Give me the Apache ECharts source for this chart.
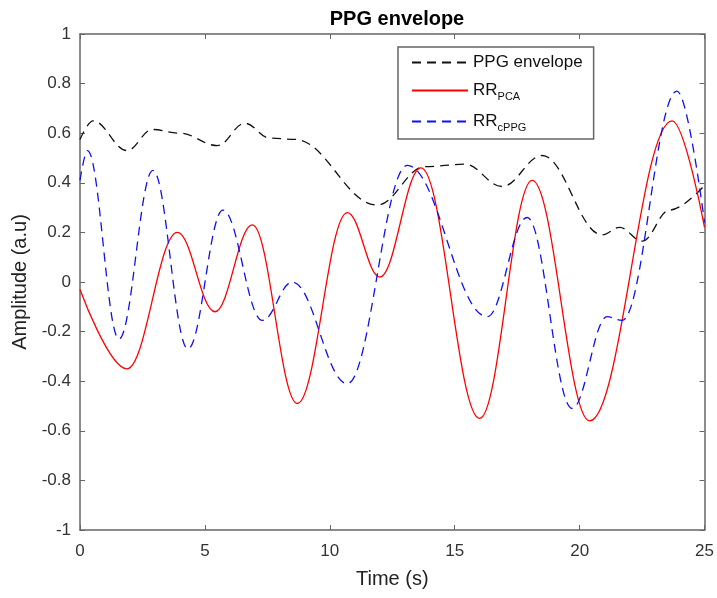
<!DOCTYPE html>
<html>
<head>
<meta charset="utf-8">
<script src="https://cdn.jsdelivr.net/npm/echarts@6/dist/echarts.min.js"></script>
<style>
  html, body { margin: 0; padding: 0; background: #fff; }
  #chart { width: 717px; height: 598px; }
</style>
</head>
<body>
<div id="chart"></div>
<script>
// turning points, [time (s), amplitude]
const ppgEnvelope = [
    [0, 0.575], [0.52, 0.65], [1.88, 0.53], [2.9, 0.615], [4.0, 0.60], [5.5, 0.55],
    [6.6, 0.64], [7.6, 0.58], [8.6, 0.575], [11.9, 0.31], [13.8, 0.465], [15.4, 0.475],
    [16.9, 0.385], [18.5, 0.51], [20.9, 0.19], [21.6, 0.22], [22.5, 0.165], [23.6, 0.29],
    [25, 0.39]
];
const rrPCA = [
    [0, -0.03], [1.88, -0.35], [3.9, 0.20], [5.4, -0.12], [6.9, 0.23], [8.7, -0.49],
    [10.7, 0.28], [12.0, 0.02], [13.65, 0.46], [16.0, -0.55], [18.1, 0.41], [20.4, -0.56],
    [23.7, 0.65], [25, 0.22]
];
const rrCPPG = [
    [0, 0.41], [0.3, 0.53], [1.56, -0.23], [2.92, 0.45], [4.32, -0.27], [5.72, 0.29],
    [7.3, -0.155], [8.5, 0.0], [10.7, -0.41], [13.1, 0.47], [16.3, -0.14], [17.9, 0.26],
    [19.7, -0.51], [21.1, -0.14], [21.7, -0.155], [23.9, 0.77], [25, 0.24]
];
const seriesNames = ['PPG envelope', 'RR_PCA', 'RR_cPPG'];

const axisColor = '#666';
const font = 'Liberation Sans, Arial, sans-serif';

const chart = echarts.init(document.getElementById('chart'));

function legendText(name) {
    if (name === 'RR_PCA') return '{m|RR}{s|PCA}';
    if (name === 'RR_cPPG') return '{m|RR}{s|cPPG}';
    return '{m|' + name + '}';
}

function lineSeries(name, data, color, dashed) {
    return {
        name: name,
        type: 'line',
        data: data,
        smooth: 0.38,
        smoothMonotone: 'x',
        showSymbol: false,
        symbol: 'none',
        color: color,
        lineStyle: { color: color, width: 1.3, type: dashed ? [9, 6] : 'solid' }
    };
}

const option = {
    animation: false,
    backgroundColor: '#fff',
    title: {
        text: 'PPG envelope',
        left: 392,
        textAlign: 'center',
        top: 4,
        textStyle: { fontFamily: font, fontSize: 20, fontWeight: 'bold', color: '#000' }
    },
    legend: {
        data: seriesNames,
        orient: 'vertical',
        left: 398,
        top: 47,
        padding: [7, 11, 6, 13],
        itemWidth: 56,
        itemHeight: 14,
        itemGap: 11,
        backgroundColor: '#fff',
        borderColor: axisColor,
        borderWidth: 1.5,
        borderRadius: 0,
        itemStyle: { opacity: 0 },
        formatter: legendText,
        textStyle: {
            fontFamily: font,
            color: '#000',
            rich: {
                m: { fontFamily: font, fontSize: 17, color: '#111' },
                s: { fontFamily: font, fontSize: 11, color: '#111', padding: [12, 0, 0, 0] }
            }
        }
    },
    grid: { left: 80, right: 12, top: 34, bottom: 68 },
    xAxis: [{
        type: 'value',
        min: 0, max: 25, interval: 5,
        name: 'Time (s)',
        nameLocation: 'middle',
        nameGap: 39,
        nameTextStyle: { fontFamily: font, fontSize: 20, color: '#222' },
        axisLine: { show: true, onZero: false, lineStyle: { color: axisColor, width: 1.5 } },
        axisTick: { inside: true, length: 5, lineStyle: { color: axisColor } },
        axisLabel: { fontFamily: font, fontSize: 17, color: '#333', margin: 13 },
        splitLine: { show: false }
    }, {
        type: 'value',
        position: 'top',
        min: 0, max: 25, interval: 5,
        axisLine: { show: true, onZero: false, lineStyle: { color: axisColor, width: 1.5 } },
        axisTick: { inside: true, length: 5, lineStyle: { color: axisColor } },
        axisLabel: { show: false },
        splitLine: { show: false }
    }],
    yAxis: [{
        type: 'value',
        min: -1, max: 1, interval: 0.2,
        name: 'Amplitude (a.u)',
        nameLocation: 'middle',
        nameGap: 49,
        nameTextStyle: { fontFamily: font, fontSize: 20, color: '#222' },
        axisLine: { show: true, onZero: false, lineStyle: { color: axisColor, width: 1.5 } },
        axisTick: { inside: true, length: 5, lineStyle: { color: axisColor } },
        axisLabel: {
            fontFamily: font, fontSize: 17, color: '#333', margin: 9,
            formatter: v => String(+v.toFixed(1))
        },
        splitLine: { show: false }
    }, {
        type: 'value',
        position: 'right',
        min: -1, max: 1, interval: 0.2,
        axisLine: { show: true, onZero: false, lineStyle: { color: axisColor, width: 1.5 } },
        axisTick: { inside: true, length: 5, lineStyle: { color: axisColor } },
        axisLabel: { show: false },
        splitLine: { show: false }
    }],
    series: [
        lineSeries(seriesNames[0], ppgEnvelope, '#111', true),
        lineSeries(seriesNames[1], rrPCA, '#f00', false),
        lineSeries(seriesNames[2], rrCPPG, '#1010ee', true)
    ]
};

chart.setOption(option);
</script>
</body>
</html>
